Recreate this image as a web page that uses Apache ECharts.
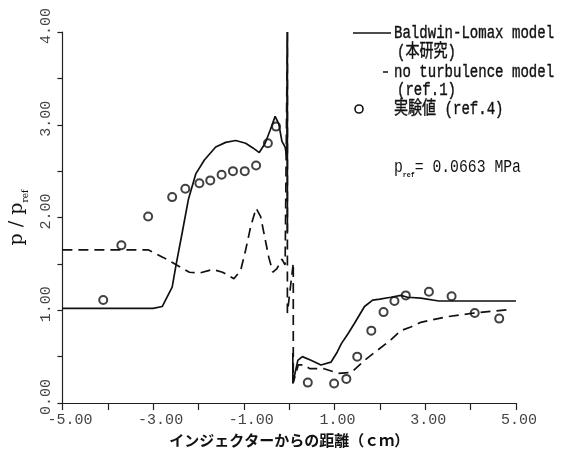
<!DOCTYPE html>
<html>
<head>
<meta charset="utf-8">
<script src="https://cdn.jsdelivr.net/npm/echarts@6/dist/echarts.min.js"></script>
<style>
  html, body { margin: 0; padding: 0; background: #fff; }
  #chart { width: 561px; height: 454px; }
</style>
</head>
<body>
<div id="chart"></div>
<script>
// Baldwin-Lomax model (solid). The trace is broken at the injector, where the plot shows only the dashed run.
const baldwinBefore = [
  [-5.0, 1.02], [-3.0, 1.02], [-2.8, 1.04], [-2.58, 1.25], [-2.49, 1.5], [-2.35, 1.86],
  [-2.22, 2.2], [-2.06, 2.47], [-1.87, 2.62], [-1.62, 2.76], [-1.4, 2.81], [-1.18, 2.83],
  [-0.96, 2.8], [-0.8, 2.75], [-0.66, 2.7], [-0.53, 2.8], [-0.42, 2.94], [-0.31, 3.09],
  [-0.23, 3.01], [-0.16, 2.82], [-0.09, 2.76], [-0.05, 2.64], [-0.04, 4.0], [-0.04, 1.85]
];
const baldwinAfter = [
  [0.08, 0.54], [0.08, 0.21], [0.19, 0.46], [0.29, 0.5], [0.48, 0.46], [0.7, 0.41],
  [0.92, 0.44], [1.06, 0.55], [1.15, 0.64], [1.3, 0.75], [1.44, 0.86], [1.66, 1.04],
  [1.84, 1.11], [2.0, 1.12], [2.24, 1.14], [2.46, 1.16], [2.61, 1.14], [2.9, 1.13],
  [3.3, 1.1], [4.0, 1.1], [5.0, 1.1]
];
// no turbulence model (dashed)
const noTurbulence = [
  [-5.0, 1.65], [-3.1, 1.65], [-2.78, 1.57], [-2.49, 1.49], [-2.2, 1.41], [-1.98, 1.4],
  [-1.69, 1.44], [-1.47, 1.41], [-1.22, 1.34], [-1.07, 1.43], [-0.96, 1.65], [-0.85, 1.9],
  [-0.73, 2.1], [-0.63, 2.01], [-0.54, 1.79], [-0.45, 1.57], [-0.36, 1.41], [-0.27, 1.45],
  [-0.16, 1.55], [-0.09, 1.49], [-0.04, 4.0], [-0.04, 0.97], [0.09, 1.51], [0.09, 0.22],
  [0.2, 0.41], [0.34, 0.41], [0.45, 0.37], [0.77, 0.37], [1.08, 0.32], [1.37, 0.33],
  [1.66, 0.46], [1.95, 0.57], [2.24, 0.68], [2.46, 0.78], [2.68, 0.82], [2.9, 0.87],
  [3.48, 0.93], [4.07, 0.97], [4.91, 1.01]
];
// 実験値 (ref.4)
const experiment = [
  [-4.1, 1.11], [-3.7, 1.7], [-3.11, 2.01], [-2.58, 2.22], [-2.29, 2.31], [-1.98, 2.37],
  [-1.74, 2.4], [-1.49, 2.46], [-1.24, 2.5], [-0.98, 2.5], [-0.73, 2.56], [-0.47, 2.8],
  [-0.29, 2.98], [0.41, 0.22], [0.99, 0.21], [1.26, 0.26], [1.5, 0.5], [1.81, 0.78],
  [2.08, 0.98], [2.32, 1.1], [2.57, 1.16], [3.08, 1.2], [3.58, 1.15], [4.09, 0.97], [4.63, 0.91]
];
// tick labels shown on each axis
const xLabelValues = [-5, -3, -1, 1, 3, 5];
const yLabelValues = [0, 1, 2, 3, 4];

const INK = '#111';
const MONO = "'Liberation Mono', 'Noto Sans CJK JP', monospace";

const chart = echarts.init(document.getElementById('chart'), null, { renderer: 'canvas' });

const legendText = (text, x, y, scale) => ({
  type: 'text',
  x,
  y,
  scaleX: scale || 0.78,
  style: {
    text, font: `18px ${MONO}`, fill: INK, stroke: INK, lineWidth: 0.4, verticalAlign: 'middle',
  },
});

const option = {
  backgroundColor: '#fff',
  animation: false,
  grid: { left: 59, right: 45, top: 32, bottom: 51 },
  xAxis: {
    type: 'value',
    min: -5,
    max: 5,
    interval: 1,
    name: 'インジェクターからの距離（ｃｍ）',
    nameLocation: 'middle',
    nameGap: 30,
    nameTextStyle: {
      fontFamily: 'Noto Sans CJK JP', fontWeight: 'bold', fontSize: 15, color: INK,
    },
    axisLine: { show: true, onZero: false, lineStyle: { color: '#222', width: 1.2 } },
    axisTick: { show: true, inside: false, length: 7, lineStyle: { color: '#222', width: 1.2 } },
    splitLine: { show: false },
    axisLabel: {
      margin: 10,
      align: 'left',
      padding: [0, 0, 0, -15],
      fontFamily: 'Liberation Mono',
      fontSize: 15,
      color: '#444',
      formatter: (v) => (xLabelValues.includes(Math.round(v)) ? v.toFixed(2) : ''),
    },
  },
  yAxis: {
    type: 'value',
    min: 0,
    max: 4,
    interval: 0.5,
    name: '{p|p / p}{s|ref}',
    nameLocation: 'middle',
    nameRotate: 90,
    nameGap: 30,
    nameTextStyle: {
      rich: {
        p: { fontFamily: 'DejaVu Serif', fontSize: 19, color: INK, lineHeight: 26, verticalAlign: 'middle' },
        s: { fontFamily: 'DejaVu Serif', fontSize: 9, color: INK, verticalAlign: 'bottom', lineHeight: 13 },
      },
    },
    axisLine: { show: true, onZero: false, lineStyle: { color: '#222', width: 1.2 } },
    axisTick: { show: true, inside: false, length: 5, lineStyle: { color: '#222', width: 1.2 } },
    splitLine: { show: false },
    axisLabel: {
      rotate: 90,
      margin: 9,
      padding: [0, 0, 0, 12],
      fontFamily: 'Liberation Mono',
      fontSize: 15,
      color: '#444',
      formatter: (v) => (yLabelValues.includes(v) ? v.toFixed(2) : ''),
    },
  },
  series: [
    {
      name: 'Baldwin-Lomax model',
      type: 'line',
      data: baldwinBefore,
      showSymbol: false,
      lineStyle: { color: INK, width: 1.7 },
    },
    {
      name: 'Baldwin-Lomax model',
      type: 'line',
      data: baldwinAfter,
      showSymbol: false,
      lineStyle: { color: INK, width: 1.7 },
    },
    {
      name: 'no turbulence model',
      type: 'line',
      data: noTurbulence,
      showSymbol: false,
      lineStyle: { color: INK, width: 1.7, type: [10, 6] },
    },
    {
      name: '実験値 (ref.4)',
      type: 'scatter',
      data: experiment,
      symbol: 'emptyCircle',
      symbolSize: 8,
      itemStyle: { color: INK, borderColor: INK, borderWidth: 1.2 },
    },
  ],
  // hand-drawn legend block, as in the original figure
  graphic: [
    { type: 'line', shape: { x1: 353, y1: 33, x2: 391, y2: 33 }, style: { stroke: INK, lineWidth: 1.5 } },
    legendText('Baldwin-Lomax model', 394, 33),
    legendText('(本研究)', 397, 52),
    { type: 'line', shape: { x1: 383, y1: 72, x2: 388, y2: 72 }, style: { stroke: INK, lineWidth: 1.5 } },
    legendText('no turbulence model', 394, 72),
    legendText('(ref.1)', 397, 90),
    { type: 'circle', shape: { cx: 359, cy: 109, r: 4 }, style: { fill: '#fff', stroke: INK, lineWidth: 1.6 } },
    legendText('実験値 (ref.4)', 394, 109),
    {
      type: 'text',
      x: 394,
      y: 167,
      scaleX: 0.82,
      style: {
        text: '{p|p}{s|ref}{t|= 0.0663 MPa}',
        fill: INK,
        verticalAlign: 'middle',
        rich: {
          p: { font: `18px ${MONO}`, lineHeight: 24, verticalAlign: 'middle' },
          s: { font: `bold 8px ${MONO}`, lineHeight: 10, verticalAlign: 'bottom' },
          t: { font: `18px ${MONO}`, lineHeight: 24, verticalAlign: 'middle' },
        },
      },
    },
  ],
};

chart.setOption(option);
</script>
</body>
</html>
